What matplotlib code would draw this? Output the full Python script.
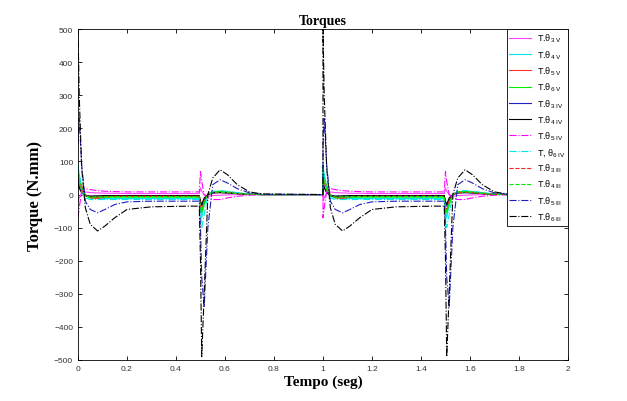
import numpy as np
import matplotlib
matplotlib.use("Agg")
import matplotlib.pyplot as plt

# one period of the simulation (repeated at t+1)
t = [0.0, 0.005, 0.015, 0.03, 0.05, 0.08, 0.11, 0.15, 0.2, 0.3, 0.45, 0.495,
     0.5, 0.505, 0.515, 0.53, 0.55, 0.58, 0.61, 0.65, 0.7, 0.75, 1.0]

th3_V   = [-20, -10, 5, 8, 6, 5, 4, 4, 3, 3, 3, 3, 20, 10, 0, -5, -3, -2, -1, 0, 0, 0, 0]
th4_V   = [80, 60, 25, -3, -10, -12, -12, -12, -12, -12, -12, -12, -45, -70, -30, 2, 8, 10, 8, 5, 1, 0, 0]
th5_V   = [55, 45, 25, 0, -10, -12, -8, -5, -4, -3, -3, -3, -40, -50, -20, 2, 8, 8, 7, 4, 1, 0, 0]
th6_V   = [70, 50, 20, -5, -10, -9, -8, -8, -8, -8, -8, -8, -50, -55, -30, 0, 8, 10, 8, 5, 1, 0, 0]
th3_IV  = [40, 25, 8, -2, -5, -5, -5, -5, -5, -5, -5, -5, -25, -35, -15, 0, 5, 6, 5, 3, 1, 0, 0]
th4_IV  = [30, 20, 5, -3, -5, -4, -3, -3, -3, -3, -3, -3, -20, -30, -10, 0, 5, 6, 5, 3, 1, 0, 0]
th5_IV  = [-70, -40, 10, 18, 15, 12, 10, 9, 8, 8, 8, 8, 70, 40, 0, -10, -15, -15, -10, -5, -2, 0, 0]
th6_IV  = [90, 60, 10, -10, -15, -15, -15, -15, -15, -15, -15, -15, -60, -100, -60, 0, 10, 12, 10, 6, 2, 0, 0]
th3_III = [50, 35, 12, -3, -8, -8, -6, -5, -5, -5, -5, -5, -35, -45, -20, 0, 6, 7, 6, 3, 1, 0, 0]
th4_III = [60, 40, 15, -2, -8, -7, -6, -6, -6, -6, -6, -6, -40, -50, -25, 0, 7, 8, 6, 3, 1, 0, 0]
th5_III = [150, 230, 90, -20, -45, -55, -45, -30, -22, -20, -20, -20, -100, -250, -340, -100, 30, 45, 35, 18, 5, 1, 0]
th6_III = [500, 300, 80, -40, -90, -110, -95, -70, -45, -37, -35, -35, -200, -490, -300, 0, 50, 75, 60, 30, 8, 2, 0]

series = [
    (th3_V,   "#ff40ff", "-",  r"T.$\theta_{3\ \mathrm{V}}$"),
    (th4_V,   "#00e8e8", "-",  r"T.$\theta_{4\ \mathrm{V}}$"),
    (th5_V,   "#ff3030", "-",  r"T.$\theta_{5\ \mathrm{V}}$"),
    (th6_V,   "#00ee00", "-",  r"T.$\theta_{6\ \mathrm{V}}$"),
    (th3_IV,  "#2020c0", "-",  r"T.$\theta_{3\ \mathrm{IV}}$"),
    (th4_IV,  "#000000", "-",  r"T.$\theta_{4\ \mathrm{IV}}$"),
    (th5_IV,  "#ff00ff", "-.", r"T.$\theta_{5\ \mathrm{IV}}$"),
    (th6_IV,  "#00e8e8", "-.", r"T, $\theta_{6\ \mathrm{IV}}$"),
    (th3_III, "#ff2020", "--", r"T.$\theta_{3\ \mathrm{III}}$"),
    (th4_III, "#00ee00", "--", r"T.$\theta_{4\ \mathrm{III}}$"),
    (th5_III, "#2020c0", "-.", r"T.$\theta_{5\ \mathrm{III}}$"),
    (th6_III, "#000000", "-.", r"T.$\theta_{6\ \mathrm{III}}$"),
]

plt.rcParams["font.family"] = ["Liberation Sans", "DejaVu Sans"]
plt.rcParams["mathtext.fontset"] = "custom"
plt.rcParams["mathtext.rm"] = "Liberation Sans"
plt.rcParams["mathtext.it"] = "Liberation Sans"

fig = plt.figure(figsize=(6.27, 4.02), dpi=100)
ax = fig.add_axes([0.1244, 0.102, 0.7815, 0.823])

tt = np.concatenate([t, np.array(t) + 1])
for vals, col, ls, lab in series:
    ax.plot(tt, vals + vals, color=col, linestyle=ls, linewidth=0.8, label=lab)

ax.set_xlim(0, 2)
ax.set_ylim(-500, 500)
ax.set_xticks(np.arange(0, 2.01, 0.2))
ax.set_xticklabels(["0", "0.2", "0.4", "0.6", "0.8", "1", "1.2", "1.4", "1.6", "1.8", "2"])
ax.set_yticks(np.arange(-500, 501, 100))
ax.tick_params(direction="in", top=True, right=True, labelsize=6, length=3,
               width=0.6, labelcolor="#333333")
for s in ax.spines.values():
    s.set_linewidth(0.6)

ax.set_title("Torques", fontfamily="Liberation Serif", fontweight="bold", fontsize=10, pad=4)
ax.set_xlabel("Tempo (seg)", fontfamily="Liberation Serif", fontweight="bold", fontsize=11, labelpad=2)
ax.set_ylabel("Torque (N.mm)", fontfamily="Liberation Serif", fontweight="bold", fontsize=12, labelpad=8)

leg = ax.legend(loc="upper right", fontsize=6.5, borderaxespad=0, handlelength=2.4,
                labelspacing=0.42, fancybox=False, framealpha=1, edgecolor="black",
                borderpad=0.3, handletextpad=0.6)
leg.get_frame().set_linewidth(0.6)

fig.savefig("out.png", dpi=100)
